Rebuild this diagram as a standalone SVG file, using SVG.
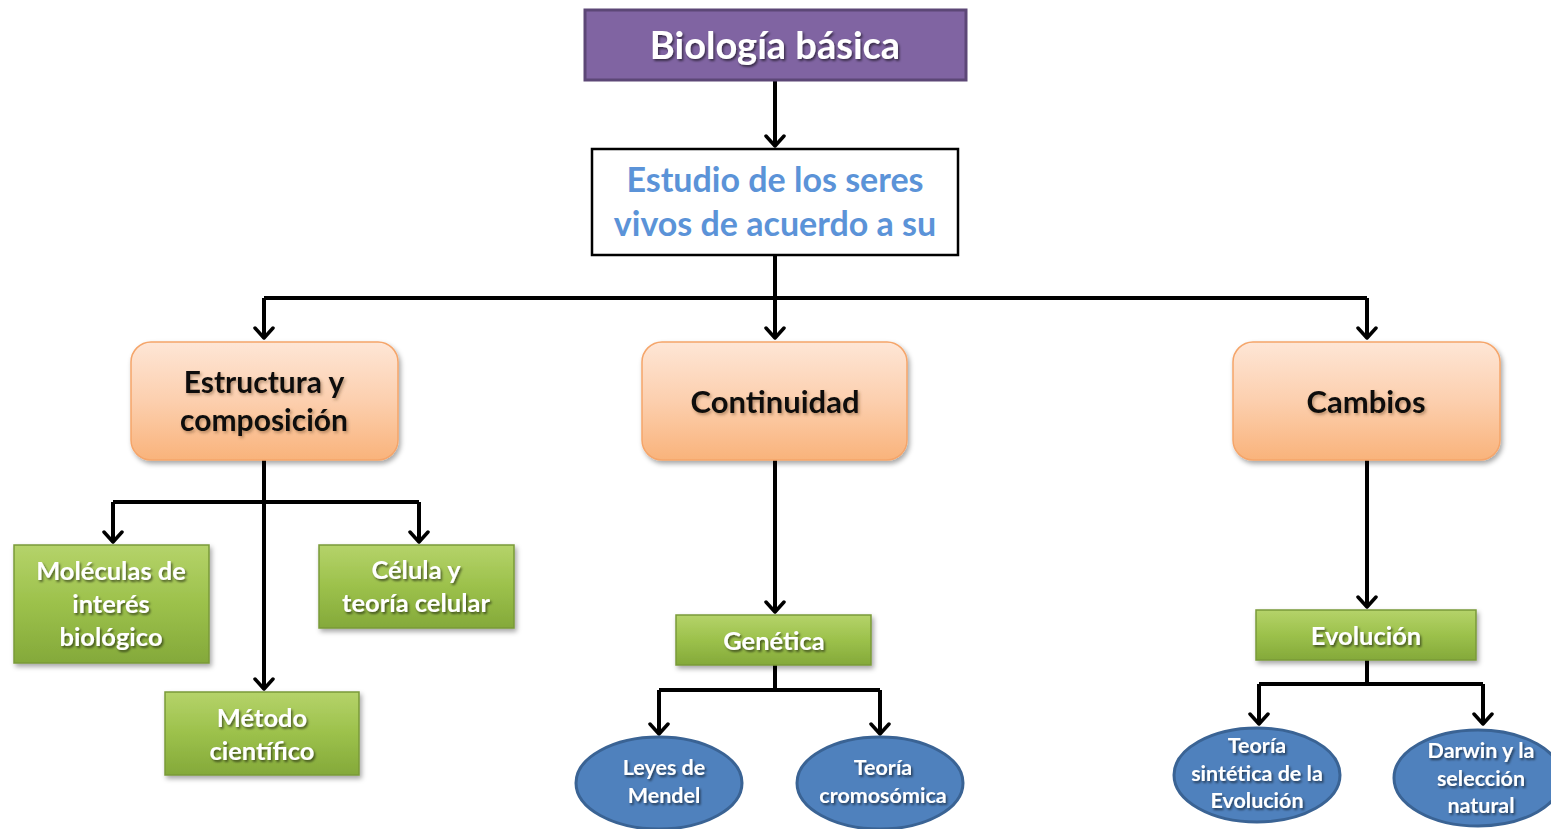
<svg xmlns="http://www.w3.org/2000/svg" width="1551" height="829" viewBox="0 0 1551 829">
<defs>
<linearGradient id="gOrange" x1="0" y1="0" x2="0" y2="1">
<stop offset="0" stop-color="#FEE6D6"/><stop offset="0.5" stop-color="#FCCFAE"/><stop offset="1" stop-color="#F9B37B"/>
</linearGradient>
<linearGradient id="gGreen" x1="0" y1="0" x2="0" y2="1">
<stop offset="0" stop-color="#B5D36A"/><stop offset="0.5" stop-color="#9CC14B"/><stop offset="1" stop-color="#84A93A"/>
</linearGradient>
<filter id="shadow" x="-10%" y="-10%" width="130%" height="140%">
<feDropShadow dx="2" dy="3" stdDeviation="2.5" flood-color="#000" flood-opacity="0.35"/>
</filter>
<filter id="tsh" x="-10%" y="-20%" width="120%" height="150%">
<feDropShadow dx="1.5" dy="2" stdDeviation="1.2" flood-color="#000" flood-opacity="0.55"/>
</filter>
<filter id="tshLight" x="-10%" y="-20%" width="120%" height="150%">
<feDropShadow dx="1.5" dy="2" stdDeviation="1.5" flood-color="#604020" flood-opacity="0.45"/>
</filter>
<marker id="arr" viewBox="0 0 14 22" refX="12" refY="11" markerWidth="14" markerHeight="22" markerUnits="userSpaceOnUse" orient="auto">
<path d="M2,2 L12,11 L2,20" fill="none" stroke="#000" stroke-width="3.5" stroke-linecap="round" stroke-linejoin="round"/>
</marker>
</defs>
<style>
.t{font-family:Lato,"Noto Sans","Liberation Sans",sans-serif;font-weight:bold;text-anchor:middle}
.w{fill:#fff}
.k{fill:#111}
.orange{fill:url(#gOrange);stroke:#F5A56A;stroke-width:1.5}
.green{fill:url(#gGreen);stroke:#7A9A38;stroke-width:1.5}
.blue{fill:#4F81BD;stroke:#3A6394;stroke-width:3}
.c{fill:none;stroke:#000;stroke-width:4}
.ca{fill:none;stroke:#000;stroke-width:4;marker-end:url(#arr)}
</style>
<rect width="1551" height="829" fill="#fff"/>

<g id="connectors">
<path class="ca" d="M775,80 V146"/>
<path class="c" d="M775,255 V298"/>
<path class="c" d="M264,298 H1367"/>
<path class="ca" d="M264,298 V338"/>
<path class="ca" d="M775,298 V338"/>
<path class="ca" d="M1367,298 V338"/>
<path class="ca" d="M264,460 V689"/>
<path class="c" d="M113,502 H419"/>
<path class="ca" d="M113,502 V542"/>
<path class="ca" d="M419,502 V542"/>
<path class="ca" d="M775,460 V612"/>
<path class="c" d="M775,665 V690"/>
<path class="c" d="M659,690 H880"/>
<path class="ca" d="M659,690 V734"/>
<path class="ca" d="M880,690 V734"/>
<path class="ca" d="M1367,460 V607"/>
<path class="c" d="M1367,660 V684"/>
<path class="c" d="M1259,684 H1483"/>
<path class="ca" d="M1259,684 V724"/>
<path class="ca" d="M1483,684 V724"/>
</g>

<g id="n-biologia">
<rect x="585" y="10" width="381" height="70" fill="#8064A2" stroke="#5C4776" stroke-width="3"/>
<text class="t w" x="775" y="59" font-size="38" filter="url(#tsh)">Biología básica</text>
</g>

<g id="n-estudio">
<rect x="592" y="149" width="366" height="106" fill="#fff" stroke="#000" stroke-width="2.5"/>
<text class="t" x="775" y="192" font-size="34" fill="#5B93D8">Estudio de los seres</text>
<text class="t" x="775" y="236" font-size="34" fill="#5B93D8">vivos de acuerdo a su</text>
</g>

<g id="n-estructura">
<rect class="orange" x="131" y="342" width="267" height="118" rx="20" filter="url(#shadow)"/>
<text class="t k" x="264" y="393" font-size="30" filter="url(#tshLight)">Estructura y</text>
<text class="t k" x="264" y="431" font-size="30" filter="url(#tshLight)">composición</text>
</g>

<g id="n-continuidad">
<rect class="orange" x="642" y="342" width="265" height="118" rx="20" filter="url(#shadow)"/>
<text class="t k" x="775" y="413" font-size="31" filter="url(#tshLight)">Continuidad</text>
</g>

<g id="n-cambios">
<rect class="orange" x="1233" y="342" width="267" height="118" rx="20" filter="url(#shadow)"/>
<text class="t k" x="1366" y="413" font-size="31" filter="url(#tshLight)">Cambios</text>
</g>

<g id="n-moleculas">
<rect class="green" x="14" y="545" width="195" height="118" filter="url(#shadow)"/>
<text class="t w" x="111" y="580" font-size="25.5" filter="url(#tsh)">Moléculas de</text>
<text class="t w" x="111" y="613" font-size="25.5" filter="url(#tsh)">interés</text>
<text class="t w" x="111" y="646" font-size="25.5" filter="url(#tsh)">biológico</text>
</g>

<g id="n-celula">
<rect class="green" x="319" y="545" width="195" height="83" filter="url(#shadow)"/>
<text class="t w" x="416" y="579" font-size="25.5" filter="url(#tsh)">Célula y</text>
<text class="t w" x="416" y="612" font-size="25.5" filter="url(#tsh)">teoría celular</text>
</g>

<g id="n-metodo">
<rect class="green" x="165" y="692" width="194" height="83" filter="url(#shadow)"/>
<text class="t w" x="262" y="727" font-size="25.5" filter="url(#tsh)">Método</text>
<text class="t w" x="262" y="760" font-size="25.5" filter="url(#tsh)">científico</text>
</g>

<g id="n-genetica">
<rect class="green" x="676" y="615" width="195" height="50" filter="url(#shadow)"/>
<text class="t w" x="774" y="650" font-size="25.5" filter="url(#tsh)">Genética</text>
</g>

<g id="n-evolucion">
<rect class="green" x="1256" y="610" width="220" height="50" filter="url(#shadow)"/>
<text class="t w" x="1366" y="645" font-size="25.5" filter="url(#tsh)">Evolución</text>
</g>

<g id="n-mendel">
<ellipse class="blue" cx="659" cy="783" rx="83" ry="46"/>
<text class="t w" x="664" y="775" font-size="21.5" filter="url(#tsh)">Leyes de</text>
<text class="t w" x="664" y="803" font-size="21.5" filter="url(#tsh)">Mendel</text>
</g>

<g id="n-cromosomica">
<ellipse class="blue" cx="880" cy="783" rx="83" ry="46"/>
<text class="t w" x="883" y="775" font-size="21.5" filter="url(#tsh)">Teoría</text>
<text class="t w" x="883" y="803" font-size="21.5" filter="url(#tsh)">cromosómica</text>
</g>

<g id="n-sintetica">
<ellipse class="blue" cx="1257" cy="775" rx="83" ry="47"/>
<text class="t w" x="1257" y="753" font-size="21.5" filter="url(#tsh)">Teoría</text>
<text class="t w" x="1257" y="781" font-size="21.5" filter="url(#tsh)">sintética de la</text>
<text class="t w" x="1257" y="808" font-size="21.5" filter="url(#tsh)">Evolución</text>
</g>

<g id="n-darwin">
<ellipse class="blue" cx="1478" cy="778" rx="84" ry="48"/>
<text class="t w" x="1481" y="758" font-size="21.5" filter="url(#tsh)">Darwin y la</text>
<text class="t w" x="1481" y="786" font-size="21.5" filter="url(#tsh)">selección</text>
<text class="t w" x="1481" y="813" font-size="21.5" filter="url(#tsh)">natural</text>
</g>
</svg>
